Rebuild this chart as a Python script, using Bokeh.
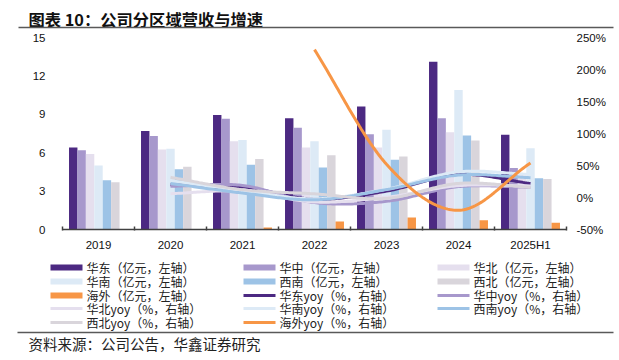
import numpy as np
from bokeh.plotting import figure
from bokeh.models import (Range1d, LinearAxis, FixedTicker, ColumnDataSource,
                          PrintfTickFormatter)
from bokeh.embed import file_html
from bokeh.resources import INLINE

# ---------------- data ----------------
categories = ["2019", "2020", "2021", "2022", "2023", "2024", "2025H1"]
yoy_categories = ["2020", "2021", "2022", "2023", "2024", "2025H1"]

rev_east = [6.4, 7.7, 8.95, 8.7, 9.6, 13.1, 7.4]
rev_central = [6.2, 7.3, 8.65, 7.95, 7.45, 8.7, 4.8]
rev_north = [5.9, 6.25, 6.9, 6.4, 6.4, 7.6, 4.4]
rev_south = [5.0, 6.3, 7.0, 6.9, 7.8, 10.9, 6.35]
rev_southwest = [3.85, 4.7, 5.05, 4.85, 5.45, 7.35, 4.0]
rev_northwest = [3.7, 4.9, 5.5, 5.8, 5.7, 6.95, 3.95]
rev_overseas = [0.0, 0.0, 0.15, 0.62, 0.93, 0.73, 0.52]

yoy_east = [20, 16.5, -2.6, 10, 36, 22]
yoy_central = [17.6, 18.8, -8, -6, 17, 16]
yoy_north = [6, 10, -7, 0.5, 18.5, 18]
yoy_south = [26, 11, -2, 13, 40, 36]
yoy_southwest = [22, 7, -3.6, 12.4, 35, 31]
yoy_northwest = [31.5, 12.3, 5.7, -1.4, 22, 16]
yoy_overseas = [None, None, 231, 52, -20, 54]

bar_labels = ["华东（亿元，左轴）", "华中（亿元，左轴）", "华北（亿元，左轴）",
              "华南（亿元，左轴）", "西南（亿元，左轴）", "西北（亿元，左轴）",
              "海外（亿元，左轴）"]
line_labels = ["华东yoy（%，右轴）", "华中yoy（%，右轴）", "华北yoy（%，右轴）",
               "华南yoy（%，右轴）", "西南yoy（%，右轴）", "西北yoy（%，右轴）",
               "海外yoy（%，右轴）"]
left_ticks = [0, 3, 6, 9, 12, 15]
right_ticks = [-50, 0, 50, 100, 150, 200, 250]
left_lim = (0, 15)
right_lim = (-50, 250)

title_text = "图表 10：公司分区域营收与增速"
source_text = "资料来源：公司公告，华鑫证券研究"

# ---------------- styles / layout ----------------
colors = ["#4C2982", "#A798CC", "#E5DFEE", "#DDEAF6", "#9DC3E6", "#D9D5DB", "#F79646"]
TICK_FONT = "Liberation Sans"
CJK = "Noto Sans CJK SC"
W, H = 619, 360
FL, FR, FT, FB = 62, 566, 37, 229   # chart area edges in page pixels

revs = [rev_east, rev_central, rev_north, rev_south, rev_southwest, rev_northwest, rev_overseas]
yoys = [yoy_east, yoy_central, yoy_north, yoy_south, yoy_southwest, yoy_northwest, yoy_overseas]
n_cat = len(categories)


def smooth(xs, ys, n=40):
    """Catmull-Rom style smoothing through the given points (like Excel smoothed lines)."""
    xs = np.asarray(xs, float)
    ys = np.asarray(ys, float)
    k = len(xs)
    m = np.zeros(k)
    for i in range(k):
        if i == 0:
            m[i] = ys[1] - ys[0]
        elif i == k - 1:
            m[i] = ys[-1] - ys[-2]
        else:
            m[i] = (ys[i + 1] - ys[i - 1]) / 2.0
    ox, oy = [], []
    for i in range(k - 1):
        t = np.linspace(0, 1, n, endpoint=(i == k - 2))
        h00 = 2 * t**3 - 3 * t**2 + 1
        h10 = t**3 - 2 * t**2 + t
        h01 = -2 * t**3 + 3 * t**2
        h11 = t**3 - t**2
        oy.extend(h00 * ys[i] + h10 * m[i] + h01 * ys[i + 1] + h11 * m[i + 1])
        ox.extend(xs[i] + t * (xs[i + 1] - xs[i]))
    return ox, oy


# ranges chosen so that the chart area lands on FL..FR / FT..FB while the
# plotting frame covers the whole canvas (so title, legend and note are not clipped)
x_lo, x_hi = 0.5, n_cat + 0.5
ppx = (FR - FL) / (x_hi - x_lo)
ppy = (FB - FT) / (left_lim[1] - left_lim[0])
ppp = (FB - FT) / (right_lim[1] - right_lim[0])
x_range = Range1d(x_lo - FL / ppx, x_hi + (W - FR) / ppx)
y_range = Range1d(left_lim[0] - (H - FB) / ppy, left_lim[1] + FT / ppy)

p = figure(width=W, height=H, output_backend="svg", toolbar_location=None,
           x_range=x_range, y_range=y_range, min_border=0,
           min_border_left=0, min_border_right=0, min_border_top=0, min_border_bottom=0)
p.extra_y_ranges = {"pct": Range1d(right_lim[0] - (H - FB) / ppp, right_lim[1] + FT / ppp),
                    "py": Range1d(H, 0)}
p.extra_x_ranges = {"px": Range1d(0, W)}
p.outline_line_color = None
p.grid.visible = False

# bars
xs_cat = list(range(1, n_cat + 1))
bar_w = 0.117
for i, (vals, c) in enumerate(zip(revs, colors)):
    src = ColumnDataSource(dict(x=[x + (i - 3) * bar_w for x in xs_cat], top=vals))
    p.vbar(x="x", top="top", width=bar_w, bottom=0, source=src,
           fill_color=c, line_color=None)

# smoothed yoy lines (right axis)
yoy_x = xs_cat[1:]
for vals, c in zip(yoys, colors):
    pts = [(x, v) for x, v in zip(yoy_x, vals) if v is not None]
    lx, ly = smooth([q[0] for q in pts], [q[1] for q in pts])
    p.line(lx, ly, line_color=c, line_width=3, y_range_name="pct")

# ---------------- axes ----------------
xa = p.xaxis[0]
xa.fixed_location = left_lim[0]
xa.bounds = (x_lo, x_hi)
xa.ticker = FixedTicker(ticks=xs_cat, minor_ticks=[x - 0.5 for x in xs_cat] + [xs_cat[-1] + 0.5])
xa.major_label_overrides = {x: c for x, c in zip(xs_cat, categories)}
xa.major_tick_line_color = None
xa.major_tick_in = 0
xa.major_tick_out = 0
xa.minor_tick_line_color = "#404040"
xa.minor_tick_line_width = 1.5
xa.minor_tick_in = 3
xa.minor_tick_out = 1
xa.axis_line_color = "#404040"
xa.axis_line_width = 1.5
xa.major_label_standoff = 8
xa.major_label_text_font = TICK_FONT
xa.major_label_text_font_size = "11.5px"
xa.major_label_text_color = "#111111"

ya = p.yaxis[0]
ya.fixed_location = x_lo
ya.bounds = left_lim
ya.ticker = FixedTicker(ticks=left_ticks)
ya.axis_line_color = None
ya.major_tick_line_color = None
ya.minor_tick_line_color = None
ya.major_tick_in = 0
ya.major_tick_out = 0
ya.major_label_standoff = 17
ya.major_label_text_font = TICK_FONT
ya.major_label_text_font_size = "11.5px"
ya.major_label_text_color = "#111111"

ra = LinearAxis(y_range_name="pct", ticker=FixedTicker(ticks=right_ticks),
                formatter=PrintfTickFormatter(format="%d%%"))
ra.fixed_location = x_hi
ra.bounds = right_lim
ra.axis_line_color = None
ra.major_tick_line_color = None
ra.minor_tick_line_color = None
ra.major_tick_in = 0
ra.major_tick_out = 0
ra.major_label_standoff = 10
ra.major_label_text_font = TICK_FONT
ra.major_label_text_font_size = "11.5px"
ra.major_label_text_color = "#111111"
p.add_layout(ra, "right")

# ---------------- title, rules, legend, note (page-pixel ranges) ----------------
p.text(x=[28], y=[18], text=[title_text], x_range_name="px", y_range_name="py",
       text_font={"value": CJK}, text_font_size="16.3px", text_font_style="bold",
       text_color="#111111", text_baseline="middle", text_align="left")
p.segment(x0=[18, 17], y0=[27, 332], x1=[613, 613], y1=[27, 332],
          x_range_name="px", y_range_name="py", line_color="#595959", line_width=1.5)

col_x = [50, 243, 437]
row_y = [267, 281, 295, 308, 322]
entries = [(lab, c, 6) for lab, c in zip(bar_labels, colors)] + \
          [(lab, c, 3) for lab, c in zip(line_labels, colors)]
sw = dict(x0=[], x1=[], y=[], color=[], lw=[])
tx = dict(x=[], y=[], text=[])
for k, (lab, c, lw) in enumerate(entries):
    r, ci = divmod(k, 3)
    sw["x0"].append(col_x[ci])
    sw["x1"].append(col_x[ci] + 32)
    sw["y"].append(row_y[r])
    sw["color"].append(c)
    sw["lw"].append(lw)
    tx["x"].append(col_x[ci] + 36)
    tx["y"].append(row_y[r])
    tx["text"].append(lab)
p.segment(x0="x0", y0="y", x1="x1", y1="y", line_color="color", line_width="lw",
          source=ColumnDataSource(sw), x_range_name="px", y_range_name="py")
p.text(x="x", y="y", text="text", source=ColumnDataSource(tx),
       x_range_name="px", y_range_name="py",
       text_font={"value": CJK}, text_font_size="12px", text_color="#222222",
       text_baseline="middle", text_align="left")

p.text(x=[28], y=[343], text=[source_text], x_range_name="px", y_range_name="py",
       text_font={"value": CJK}, text_font_size="14.5px",
       text_color="#222222", text_baseline="middle", text_align="left")

open("out.html", "w").write(file_html(p, INLINE))
